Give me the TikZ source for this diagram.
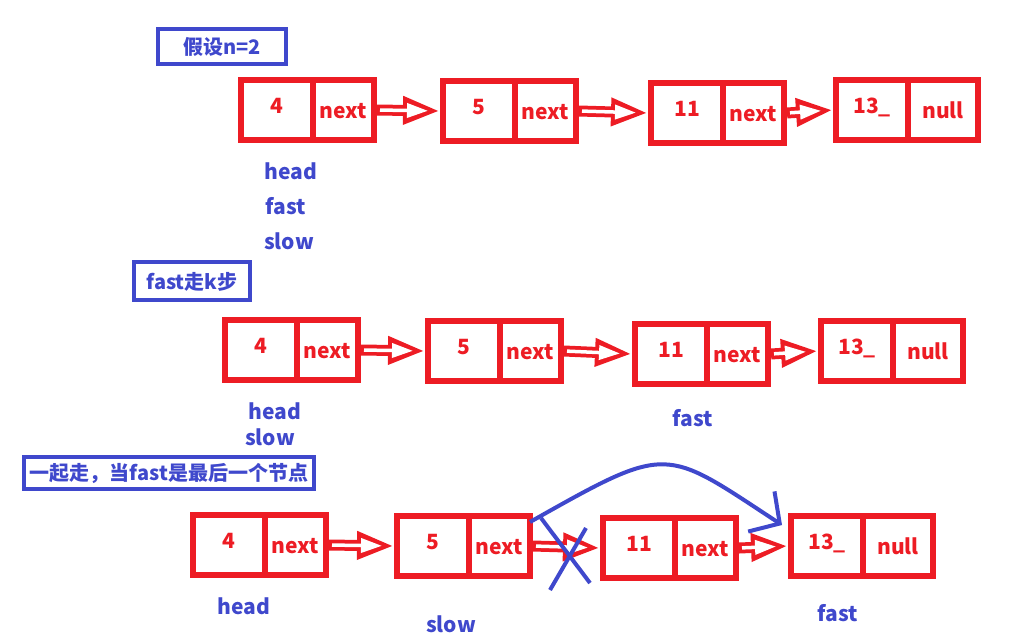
\documentclass[tikz,border=0pt]{standalone}
\usepackage{fontspec}
\setmainfont{Noto Sans CJK SC}
\usetikzlibrary{positioning,arrows.meta}
\definecolor{ured}{RGB}{237,28,36}
\definecolor{ublue}{RGB}{63,72,204}

\begin{document}
\begin{tikzpicture}[x=1pt,y=-1pt,
  every node/.style={font=\fontsize{21}{25}\selectfont\bfseries},
  cell/.style={draw=ured, line width=6pt, minimum height=60pt, inner sep=0pt, text=ured},
  val/.style={cell, minimum width=72pt, text depth=8pt},
  ptr/.style={cell, minimum width=61pt, text height=17pt},
  wide/.style={minimum width=70pt},
  lbl/.style={text=ublue},
  titlebox/.style={draw=ublue, line width=4pt, text=ublue, inner sep=0pt, text height=18pt,
    font=\fontsize{20}{24}\selectfont\bfseries},
  link/.style={draw=white, line width=3.5pt, -{Triangle[length=21pt,width=14pt]}, shorten >=12pt, shorten <=3pt,
    preaction={draw=ured, line width=11pt, -{Triangle[length=37pt,width=26pt]}, shorten >=0pt, shorten <=0pt}},
  jump/.style={draw=ublue, line width=4pt, -{Straight Barb[length=22pt,width=48pt]}},
  cross/.style={draw=ublue, line width=4pt}]
\useasboundingbox (0,0) rectangle (1030,635);

% 假设n=2
\node[titlebox, minimum width=128pt, minimum height=35pt] (t1) at (222,46) {假设n=2};
\node[val] (v11) at (277,110) {4};
\node[ptr, right=-6pt of v11] (p11) {next};
\node[val] (v12) at (479,111) {5};
\node[ptr, right=-6pt of v12] (p12) {next};
\node[val] (v13) at (687,113) {11};
\node[ptr, right=-6pt of v13] (p13) {next};
\node[val] (v14) at (872,110) {13\_};
\node[ptr, wide, right=-6pt of v14] (p14) {null};
\draw[link] (p11.east) -- (v12.west);
\draw[link] (p12.east) -- (v13.west);
\draw[link] (p13.east) -- (v14.west);
\node[lbl] (head1) at (291,171) {head};
\node[lbl] (fast1) at (286,206) {fast};
\node[lbl] (slow1) at (289,241) {slow};

% fast走k步
\node[titlebox, minimum width=116pt, minimum height=38pt] (t2) at (192,281) {fast走k步};
\node[val] (v21) at (261,350) {4};
\node[ptr, right=-6pt of v21] (p21) {next};
\node[val] (v22) at (464,351) {5};
\node[ptr, right=-6pt of v22] (p22) {next};
\node[val] (v23) at (671,354) {11};
\node[ptr, right=-6pt of v23] (p23) {next};
\node[val] (v24) at (857,351) {13\_};
\node[ptr, wide, right=-6pt of v24] (p24) {null};
\draw[link] (p21.east) -- (v22.west);
\draw[link] (p22.east) -- (v23.west);
\draw[link] (p23.east) -- (v24.west);
\node[lbl] (head2) at (275,411) {head};
\node[lbl] (slow2) at (270,437) {slow};
\node[lbl] (fast2) at (693,418) {fast};

% 一起走
\node[titlebox, minimum width=290pt, minimum height=32pt] (t3) at (169,473) {一起走，当fast是最后一个节点};
\node[val] (v31) at (229,545) {4};
\node[ptr, right=-6pt of v31] (p31) {next};
\node[val] (v32) at (433,546) {5};
\node[ptr, right=-6pt of v32] (p32) {next};
\node[val] (v33) at (639,548) {11};
\node[ptr, right=-6pt of v33] (p33) {next};
\node[val] (v34) at (827,546) {13\_};
\node[ptr, wide, right=-6pt of v34] (p34) {null};
\draw[link] (p31.east) -- (v32.west);
\draw[link] (p32.east) -- (v33.west);
\draw[link] (p33.east) -- (v34.west);
\node[lbl] (head3) at (244,606) {head};
\node[lbl] (slow3) at (451,624) {slow};
\node[lbl] (fast3) at (838,613) {fast};

\draw[jump] ([shift={(-3,9)}]p32.north east) .. controls (670,443) and (663,447) .. ([shift={(-6,12)}]v34.north west);
\draw[cross] (541,518) -- (590,583);
\draw[cross] (586,528) -- (550,590);
\end{tikzpicture}
\end{document}
